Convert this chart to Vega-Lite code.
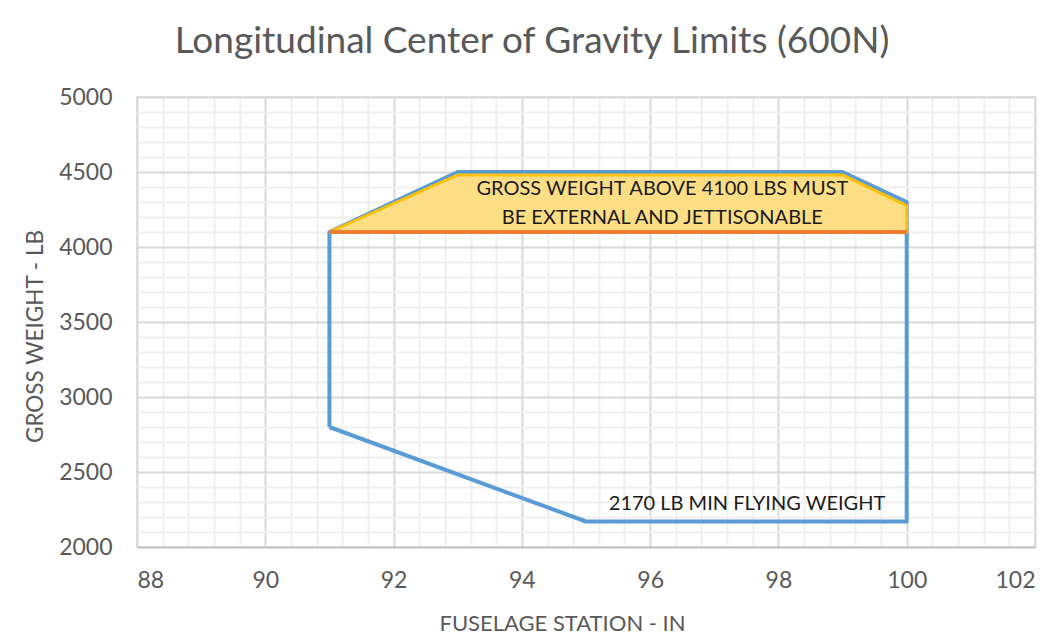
{
  "$schema": "https://vega.github.io/schema/vega-lite/v6.json",
  "width": 898,
  "height": 450,
  "autosize": {"type": "none"},
  "padding": {"left": 137, "top": 97, "right": 22, "bottom": 88},
  "background": "white",
  "title": {
    "text": "Longitudinal Center of Gravity Limits (600N)",
    "font": "Lato",
    "fontSize": 37,
    "fontWeight": "normal",
    "color": "#595959",
    "anchor": "middle",
    "dx": -54,
    "offset": 25
  },
  "config": {
    "view": {"stroke": "#D9D9D9", "strokeWidth": 1.5},
    "font": "Lato"
  },
  "datasets": {
    "envelope": [
      {"i": 1, "fs": 91, "gw": 2800},
      {"i": 2, "fs": 91, "gw": 4100},
      {"i": 3, "fs": 93, "gw": 4500},
      {"i": 4, "fs": 99, "gw": 4500},
      {"i": 5, "fs": 100, "gw": 4300},
      {"i": 6, "fs": 100, "gw": 2170},
      {"i": 7, "fs": 95, "gw": 2170},
      {"i": 8, "fs": 91, "gw": 2800}
    ],
    "external": [
      {"fs": 91, "top": 4100, "base": 4100},
      {"fs": 93, "top": 4480, "base": 4100},
      {"fs": 99, "top": 4480, "base": 4100},
      {"fs": 100, "top": 4275, "base": 4100}
    ],
    "limit": [
      {"fs": 91, "gw": 4100},
      {"fs": 100, "gw": 4100}
    ],
    "notes": [
      {"fs": 96.19, "gw": 4387, "label": "GROSS WEIGHT ABOVE 4100 LBS MUST"},
      {"fs": 96.19, "gw": 4193, "label": "BE EXTERNAL AND JETTISONABLE"},
      {"fs": 97.51, "gw": 2287, "label": "2170 LB MIN FLYING WEIGHT"}
    ]
  },
  "layer": [
    {
      "data": {"name": "envelope"},
      "mark": {"type": "line", "color": "#5B9BD5", "strokeWidth": 4, "strokeJoin": "round"},
      "encoding": {
        "x": {
          "field": "fs", "type": "quantitative",
          "scale": {"domain": [88, 102], "nice": false, "zero": false},
          "axis": {
            "title": "FUSELAGE STATION - IN",
            "titleFont": "Lato", "titleFontSize": 22, "titleFontWeight": "normal", "titleColor": "#595959",
            "titleX": 425, "titleY": 83, "titleBaseline": "alphabetic", "titleAlign": "center",
            "tickCount": 100,
            "values": [88, 88.4, 88.8, 89.2, 89.6, 90, 90.4, 90.8, 91.2, 91.6, 92, 92.4, 92.8, 93.2, 93.6, 94, 94.4, 94.8, 95.2, 95.6, 96, 96.4, 96.8, 97.2, 97.6, 98, 98.4, 98.8, 99.2, 99.6, 100, 100.4, 100.8, 101.2, 101.6, 102],
            "labelExpr": "abs(datum.value % 2) < 0.001 ? format(datum.value, 'd') : ''",
            "labelOverlap": false,
            "labelFont": "Lato", "labelFontSize": 23, "labelColor": "#595959", "labelPadding": 22,
            "ticks": false,
            "domainColor": "#BFBFBF", "domainWidth": 1.5,
            "gridColor": {"condition": {"test": "abs(datum.value % 2) < 0.001", "value": "#D9D9D9"}, "value": "#EFEFEF"},
            "gridWidth": 2
          }
        },
        "y": {
          "field": "gw", "type": "quantitative",
          "scale": {"domain": [2000, 5000], "nice": false, "zero": false},
          "axis": {
            "title": "GROSS WEIGHT - LB",
            "titleFont": "Lato", "titleFontSize": 22.5, "titleFontWeight": "normal", "titleColor": "#595959",
            "titleX": -95, "titleY": 239, "titleBaseline": "alphabetic", "titleAlign": "center", "titleAngle": 270,
            "tickCount": 100,
            "values": [2000, 2100, 2200, 2300, 2400, 2500, 2600, 2700, 2800, 2900, 3000, 3100, 3200, 3300, 3400, 3500, 3600, 3700, 3800, 3900, 4000, 4100, 4200, 4300, 4400, 4500, 4600, 4700, 4800, 4900, 5000],
            "labelExpr": "datum.value % 500 == 0 ? format(datum.value, 'd') : ''",
            "labelOverlap": false,
            "labelFont": "Lato", "labelFontSize": 23, "labelColor": "#595959", "labelPadding": 25,
            "ticks": false,
            "domain": false,
            "gridColor": {"condition": {"test": "datum.value % 500 == 0", "value": "#D9D9D9"}, "value": "#EFEFEF"},
            "gridWidth": 2
          }
        },
        "order": {"field": "i", "type": "quantitative"}
      }
    },
    {
      "data": {"name": "external"},
      "mark": {"type": "area", "fill": "#FDDE85", "stroke": "#FFC000", "strokeWidth": 3, "strokeJoin": "miter"},
      "encoding": {
        "x": {"field": "fs", "type": "quantitative"},
        "y": {"field": "top", "type": "quantitative"},
        "y2": {"field": "base"}
      }
    },
    {
      "data": {"name": "limit"},
      "mark": {"type": "line", "color": "#ED7D31", "strokeWidth": 4},
      "encoding": {
        "x": {"field": "fs", "type": "quantitative"},
        "y": {"field": "gw", "type": "quantitative"}
      }
    },
    {
      "data": {"name": "notes"},
      "mark": {"type": "text", "font": "Lato", "fontSize": 20, "color": "#1A1A1A", "align": "center", "baseline": "middle"},
      "encoding": {
        "x": {"field": "fs", "type": "quantitative"},
        "y": {"field": "gw", "type": "quantitative"},
        "text": {"field": "label"}
      }
    }
  ]
}
